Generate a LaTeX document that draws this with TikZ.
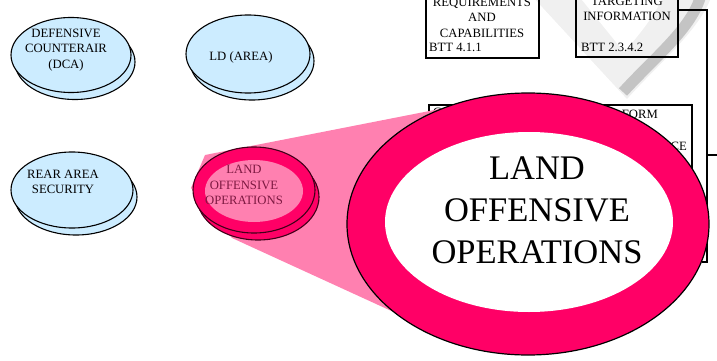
\documentclass[tikz,border=0pt]{standalone}
\usepackage{fontspec}
\setmainfont{Liberation Serif}
\usetikzlibrary{shapes.geometric}
\usetikzlibrary{shadows}

\definecolor{skyfill}{RGB}{204,236,255}
\definecolor{hotpink}{RGB}{255,0,102}
\definecolor{softpink}{RGB}{255,128,176}
\definecolor{plum}{RGB}{125,25,65}
\definecolor{ltgray}{RGB}{240,240,240}
\definecolor{dkgray}{RGB}{196,196,196}

\begin{document}
\begin{tikzpicture}[x=1pt,y=-1pt,
   lbl/.style={font=\fontsize{12.7pt}{15.5pt}\selectfont,inner sep=0pt,align=center},
   blob/.style={ellipse,draw=black,line width=1.1pt,fill=skyfill,inner sep=0pt,
     minimum width=120pt,minimum height=75pt,
     copy shadow={shadow xshift=4pt,shadow yshift=-7pt}},
   panel/.style={draw=black,line width=1.4pt,inner sep=0pt},
   link/.style={draw=black,line width=1.4pt}]
\useasboundingbox (0,0) rectangle (717,361);
\clip (0,0) rectangle (717,361);
% grey chevron behind the boxes
\fill[ltgray] (531,-5) -- (627,99) .. controls (660,62) and (700,30) .. (712,-5) -- cycle;
\fill[white] (578,-5) -- (624,52) .. controls (640,34) and (655,15) .. (664,-5) -- cycle;
\draw[dkgray,line width=11pt] (623,92) .. controls (656,56) and (692,28) .. (701,-5);
% boxes
\node[panel,minimum width=113pt,minimum height=78pt] (req) at (482.5,19) {};
\node[lbl] (reqT) at (482,17.5) {REQUIREMENTS\\AND\\CAPABILITIES};
\node[lbl,anchor=base west] (reqB) at (429,52) {BTT 4.1.1};
\node[panel,minimum width=102pt,minimum height=77pt] (targ) at (627,18.5) {};
\node[lbl] (targT) at (627,9) {TARGETING\\INFORMATION};
\node[lbl,anchor=base west] (targB) at (581,52) {BTT 2.3.4.2};
\node[panel,minimum width=263pt,minimum height=145pt] (cond) at (560.5,177.5) {};
\node[lbl,anchor=base west] (condA) at (433,116) {C};
\node[lbl,anchor=base east] (condB) at (658,118) {FORM};
\node[lbl,anchor=base east] (condC) at (687,150) {CE};
\coordinate (tj) at (707,10);
\coordinate (tbr) at (707,155);
\coordinate (tout) at (717,155);
\coordinate (tend) at (707,262);
\coordinate (ttick) at (702,262);
\draw[link] (targ.east |- tj) -- (tj) -- (tend) -- (ttick);
\draw[link] (tbr) -- (tout);
% mission ellipses
\node[blob] (dca) at (71,55) {};
\node[lbl] (dcaT) at (66,50) {DEFENSIVE\\COUNTERAIR\\(DCA)};
\node[blob,minimum width=124pt,minimum height=78pt] (ld) at (248,54) {};
\node[lbl] (ldT) at (241,57) {LD (AREA)};
\node[blob,minimum width=122pt,minimum height=76pt] (rear) at (72,190) {};
\node[lbl] (rearT) at (63,182) {REAR AREA\\SECURITY};
% zoom wedge
\fill[softpink] (191,188) -- (205,155) -- (460,105) -- (470,347) -- (232,238) -- cycle;
\node[blob,fill=hotpink,draw=black!75!hotpink,minimum width=122pt,minimum height=86pt] (loo) at (254,190) {};
\node[ellipse,fill=softpink,inner sep=0pt,minimum width=98pt,minimum height=62pt] (looIn) at (254,191) {};
\node[lbl,text=plum] (looT) at (244,185) {LAND\\OFFENSIVE\\OPERATIONS};
% magnified ellipse
\node[ellipse,draw=black,line width=1.2pt,fill=hotpink,inner sep=0pt,
  minimum width=362pt,minimum height=262pt] (big) at (528,224) {};
\node[ellipse,fill=white,inner sep=0pt,minimum width=288pt,minimum height=180pt] (bigIn) at (529,222) {};
\node[font=\fontsize{34.5pt}{42pt}\selectfont,align=center,inner sep=0pt] (bigT) at (537,210.5)
  {LAND\\OFFENSIVE\\OPERATIONS};
\end{tikzpicture}
\end{document}
